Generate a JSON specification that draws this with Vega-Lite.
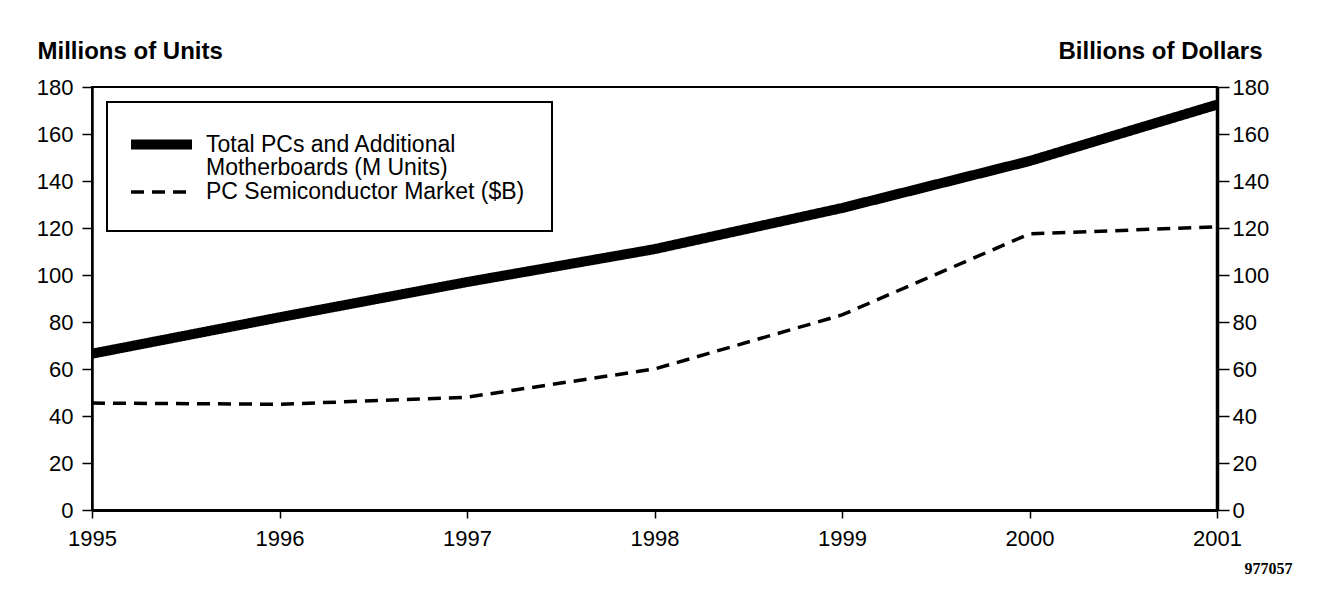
{
  "$schema": "https://vega.github.io/schema/vega-lite/v6.json",
  "width": 1125,
  "height": 423,
  "autosize": {"type": "none"},
  "padding": {"left": 92, "top": 87, "right": 103, "bottom": 89},
  "background": "white",
  "data": {
    "values": [
      {"year": 1995, "series": "Total PCs and Additional Motherboards (M Units)", "value": 66.5},
      {"year": 1996, "series": "Total PCs and Additional Motherboards (M Units)", "value": 82},
      {"year": 1997, "series": "Total PCs and Additional Motherboards (M Units)", "value": 97},
      {"year": 1998, "series": "Total PCs and Additional Motherboards (M Units)", "value": 111},
      {"year": 1999, "series": "Total PCs and Additional Motherboards (M Units)", "value": 128.5},
      {"year": 2000, "series": "Total PCs and Additional Motherboards (M Units)", "value": 148.5},
      {"year": 2001, "series": "Total PCs and Additional Motherboards (M Units)", "value": 172.5},
      {"year": 1995, "series": "PC Semiconductor Market ($B)", "value": 45.5},
      {"year": 1996, "series": "PC Semiconductor Market ($B)", "value": 45},
      {"year": 1997, "series": "PC Semiconductor Market ($B)", "value": 48},
      {"year": 1998, "series": "PC Semiconductor Market ($B)", "value": 60},
      {"year": 1999, "series": "PC Semiconductor Market ($B)", "value": 83},
      {"year": 2000, "series": "PC Semiconductor Market ($B)", "value": 117.5},
      {"year": 2001, "series": "PC Semiconductor Market ($B)", "value": 120.5}
    ]
  },
  "encoding": {
    "x": {
      "field": "year",
      "type": "quantitative",
      "scale": {"domain": [1995, 2001], "nice": false, "zero": false},
      "axis": {
        "values": [1995, 1996, 1997, 1998, 1999, 2000, 2001],
        "format": "d",
        "grid": false,
        "labelFlush": false,
        "labelOverlap": false,
        "domainWidth": 3,
        "tickSize": 8,
        "tickWidth": 1.5,
        "labelPadding": 10,
        "title": "977057",
        "titleFont": "Liberation Sans Narrow",
        "titleFontSize": 16,
        "titleFontWeight": "bold",
        "titleAlign": "right",
        "titleBaseline": "middle",
        "titleAnchor": "start",
        "titleX": 1200,
        "titleY": 58
      }
    }
  },
  "layer": [
    {
      "transform": [{"filter": "datum.series == 'Total PCs and Additional Motherboards (M Units)'"}],
      "mark": {"type": "line", "color": "black", "strokeCap": "butt"},
      "encoding": {
        "y": {
          "field": "value",
          "type": "quantitative",
          "scale": {"domain": [0, 180], "nice": false},
          "axis": {
            "orient": "left",
            "values": [0, 20, 40, 60, 80, 100, 120, 140, 160, 180],
            "grid": false,
            "domainWidth": 2.5,
            "tickSize": 10,
            "tickWidth": 1.5,
            "labelPadding": 9,
            "title": "Millions of Units",
            "titleAngle": 0,
            "titleAlign": "left",
            "titleBaseline": "middle",
            "titleX": -55,
            "titleY": -36
          }
        },
        "strokeDash": {
          "field": "series",
          "type": "nominal",
          "scale": {"domain": ["Total PCs and Additional Motherboards (M Units)", "PC Semiconductor Market ($B)"], "range": [[1, 0], [13, 8]]},
          "legend": {
            "title": null,
            "orient": "none",
            "legendX": 15,
            "legendY": 15,
            "padding": 27,
            "strokeColor": "black",
            "symbolType": "M-3,0H3",
            "symbolSize": 413,
            "symbolOffset": 12,
            "symbolStrokeColor": "black",
            "labelOffset": 29,
            "labelFontSize": 23,
            "labelLimit": 600,
            "rowPadding": 0,
            "labelExpr": "datum.value == 'Total PCs and Additional Motherboards (M Units)' ? ['Total PCs and Additional', 'Motherboards (M Units)'] : datum.label"
          }
        },
        "strokeWidth": {
          "field": "series",
          "type": "nominal",
          "scale": {"domain": ["Total PCs and Additional Motherboards (M Units)", "PC Semiconductor Market ($B)"], "range": [10, 3.5]},
          "legend": {
            "title": null,
            "orient": "none",
            "legendX": 15,
            "legendY": 15,
            "padding": 27,
            "strokeColor": "black",
            "symbolType": "M-3,0H3",
            "symbolSize": 413,
            "symbolOffset": 12,
            "symbolStrokeColor": "black",
            "labelOffset": 29,
            "labelFontSize": 23,
            "labelLimit": 600,
            "rowPadding": 0,
            "labelExpr": "datum.value == 'Total PCs and Additional Motherboards (M Units)' ? ['Total PCs and Additional', 'Motherboards (M Units)'] : datum.label"
          }
        }
      }
    },
    {
      "transform": [{"filter": "datum.series == 'PC Semiconductor Market ($B)'"}],
      "mark": {"type": "line", "color": "black", "strokeCap": "butt"},
      "encoding": {
        "y": {
          "field": "value",
          "type": "quantitative",
          "scale": {"domain": [0, 180], "nice": false},
          "axis": {
            "orient": "right",
            "values": [0, 20, 40, 60, 80, 100, 120, 140, 160, 180],
            "grid": false,
            "domainWidth": 3.5,
            "tickSize": 12,
            "tickWidth": 1.5,
            "labelPadding": 3,
            "title": "Billions of Dollars",
            "titleAngle": 0,
            "titleAlign": "right",
            "titleBaseline": "middle",
            "titleX": 45,
            "titleY": -36
          }
        },
        "strokeDash": {
          "field": "series",
          "type": "nominal",
          "scale": {"domain": ["Total PCs and Additional Motherboards (M Units)", "PC Semiconductor Market ($B)"], "range": [[1, 0], [13, 8]]}
        },
        "strokeWidth": {
          "field": "series",
          "type": "nominal",
          "scale": {"domain": ["Total PCs and Additional Motherboards (M Units)", "PC Semiconductor Market ($B)"], "range": [10, 3.5]}
        }
      }
    }
  ],
  "resolve": {"scale": {"y": "independent"}},
  "config": {
    "font": "Liberation Sans",
    "view": {"stroke": "black", "strokeWidth": 2},
    "style": {"guide-label": {"lineHeight": 23}},
    "axis": {
      "domainColor": "black",
      "tickColor": "black",
      "labelColor": "black",
      "titleColor": "black",
      "labelFont": "Liberation Sans",
      "labelFontSize": 22,
      "labelFontWeight": "normal",
      "titleFont": "Liberation Sans",
      "titleFontSize": 24,
      "titleFontWeight": "bold"
    },
    "legend": {
      "labelColor": "black",
      "labelFont": "Liberation Sans",
      "strokeWidth": 2
    }
  }
}
